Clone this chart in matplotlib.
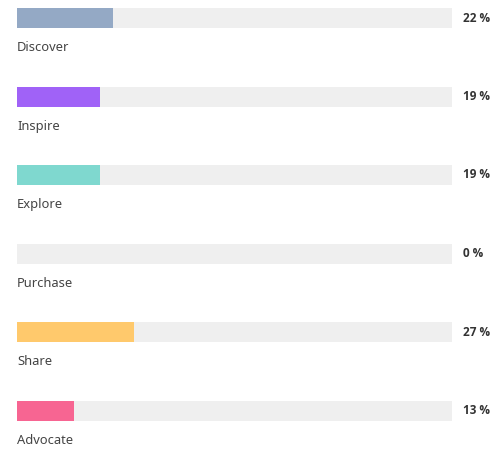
import matplotlib.pyplot as plt

stages = ["Discover", "Inspire", "Explore", "Purchase", "Share", "Advocate"]
shares = [22, 19, 19, 0, 27, 13]
colors = ["#94a9c5", "#a062f7", "#7fd8cf", "#94a9c5", "#ffc96c", "#f76592"]

W, H = 497, 450
fig = plt.figure(figsize=(W / 100, H / 100), dpi=100)
plt.rcParams["font.family"] = ["Noto Sans", "DejaVu Sans"]

# axes spans the bar track horizontally, full height vertically
ax = fig.add_axes([17 / W, 0, (452 - 17) / W, 1])
row_px = 78.5
top_px = 18
ax.set_xlim(0, 100)
ax.set_ylim((H - top_px) / row_px, -top_px / row_px)
ax.axis("off")

bar_h = 20 / row_px
rows = range(len(stages))
ax.barh(rows, [100] * len(stages), height=bar_h, color="#efefef", zorder=1)
ax.barh(rows, shares, height=bar_h, color=colors, zorder=2)

for i, (name, v) in enumerate(zip(stages, shares)):
    ax.text(0, i + 0.38, name, ha="left", va="center", fontsize=9.3,
            color="#444444")
    ax.text(102.5, i, f"{v} %", ha="left", va="center", fontsize=8.5,
            fontweight="bold", family=["Open Sans", "DejaVu Sans"],
            color="#333333", clip_on=False)

fig.savefig("out.png", dpi=100)
